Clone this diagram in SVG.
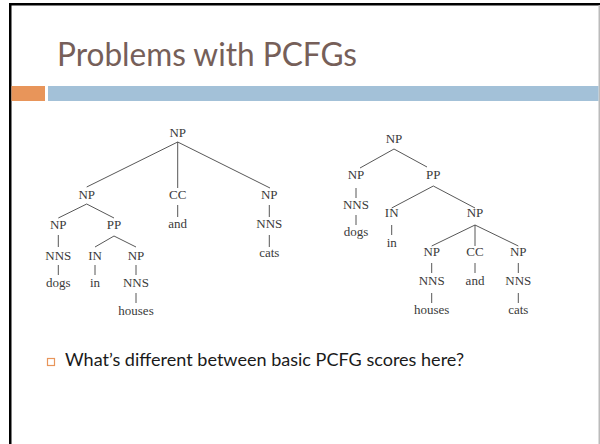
<svg xmlns="http://www.w3.org/2000/svg" width="600" height="444" viewBox="0 0 600 444">
<style>
.t{font-family:"Liberation Serif","Times New Roman",serif;font-size:13px;font-weight:normal;fill:#3a3a3a;text-anchor:middle}
.e{stroke:#444;stroke-width:0.9;fill:none}
.title{font-family:Lato,"Open Sans","DejaVu Sans",sans-serif;font-size:32px;fill:#765f59}
.body{font-family:Lato,"Open Sans","DejaVu Sans",sans-serif;font-size:18px;fill:#1a1a1a}
</style>
<rect x="0" y="0" width="600" height="444" fill="#fff"/>
<g id="frame">
<rect x="9" y="3" width="2.5" height="441" fill="#000"/>
<rect x="9" y="3" width="591" height="2.5" fill="#000"/>
<rect x="598.5" y="5" width="1.5" height="439" fill="#bbb"/>
</g>
<g id="header">
<text class="title" x="57" y="65.5" textLength="300" lengthAdjust="spacingAndGlyphs">Problems with PCFGs</text>
<rect x="11.5" y="86" width="33.5" height="15" fill="#e8955a"/>
<rect x="48" y="86" width="550.5" height="15" fill="#a3c1d8"/>
</g>
<g id="connectors">
<path class="e" d="M177.7 142 L86.7 187 M177.7 142 L177.7 188 M177.7 142 L270 188"/>
<path class="e" d="M86.7 204 L58.3 218 M86.7 204 L114 218 M177.7 205 L177.7 217 M269.3 205 L269.3 217"/>
<path class="e" d="M58.3 235 L58.3 247 M114 236 L95 247 M114 236 L136 247 M269.3 235 L269.3 247"/>
<path class="e" d="M58.3 265 L58.3 275 M95 265 L95 275 M136 265 L136 275 M136 293 L136 303"/>
<path class="e" d="M394 149 L360 168 M394 149 L427 167 M356 188 L356 198 M433.3 186 L391.7 208 M433.3 186 L475 208"/>
<path class="e" d="M356 215 L356 225 M391.7 225 L391.7 235 M475 225 L431.7 246 M475 225 L475 246 M475 225 L518.3 246"/>
<path class="e" d="M431.7 263 L431.7 273 M475 263 L475 273 M518.3 263 L518.3 273 M431.7 293 L431.7 303 M518.3 293 L518.3 303"/>
</g>
<g id="tree1">
<g id="t1-np-root"><text class="t" x="177.7" y="137">NP</text></g>
<g id="t1-np1"><text class="t" x="86.7" y="199">NP</text></g>
<g id="t1-cc"><text class="t" x="177.7" y="199">CC</text></g>
<g id="t1-np2"><text class="t" x="269.3" y="199">NP</text></g>
<g id="t1-np11"><text class="t" x="58.3" y="229">NP</text></g>
<g id="t1-pp"><text class="t" x="114" y="229">PP</text></g>
<g id="t1-and"><text class="t" x="177.7" y="228">and</text></g>
<g id="t1-nns-cats"><text class="t" x="269.3" y="228">NNS</text></g>
<g id="t1-nns-dogs"><text class="t" x="58.3" y="260">NNS</text></g>
<g id="t1-in"><text class="t" x="95" y="260">IN</text></g>
<g id="t1-np-houses"><text class="t" x="136" y="260">NP</text></g>
<g id="t1-cats"><text class="t" x="269.3" y="257">cats</text></g>
<g id="t1-dogs"><text class="t" x="58.3" y="287">dogs</text></g>
<g id="t1-in-w"><text class="t" x="95" y="287">in</text></g>
<g id="t1-nns-houses"><text class="t" x="136" y="287">NNS</text></g>
<g id="t1-houses"><text class="t" x="136" y="315">houses</text></g>
</g>
<g id="tree2">
<g id="t2-np-root"><text class="t" x="394" y="143">NP</text></g>
<g id="t2-np1"><text class="t" x="356" y="179">NP</text></g>
<g id="t2-pp"><text class="t" x="433.3" y="179">PP</text></g>
<g id="t2-nns-dogs"><text class="t" x="356" y="209">NNS</text></g>
<g id="t2-in"><text class="t" x="391.7" y="217">IN</text></g>
<g id="t2-np2"><text class="t" x="475" y="217">NP</text></g>
<g id="t2-dogs"><text class="t" x="356" y="236">dogs</text></g>
<g id="t2-in-w"><text class="t" x="391.7" y="247">in</text></g>
<g id="t2-np-houses"><text class="t" x="431.7" y="256">NP</text></g>
<g id="t2-cc"><text class="t" x="475" y="256">CC</text></g>
<g id="t2-np-cats"><text class="t" x="518.3" y="256">NP</text></g>
<g id="t2-nns-houses"><text class="t" x="431.7" y="285">NNS</text></g>
<g id="t2-and"><text class="t" x="475" y="285">and</text></g>
<g id="t2-nns-cats"><text class="t" x="518.3" y="285">NNS</text></g>
<g id="t2-houses"><text class="t" x="431.7" y="314">houses</text></g>
<g id="t2-cats"><text class="t" x="518.3" y="314">cats</text></g>
</g>
<g id="bullet">
<rect x="47.5" y="358.5" width="7" height="7" fill="none" stroke="#e8955a" stroke-width="1.2"/>
<text class="body" x="65" y="366" textLength="399" lengthAdjust="spacingAndGlyphs">What’s different between basic PCFG scores here?</text>
</g>
</svg>
